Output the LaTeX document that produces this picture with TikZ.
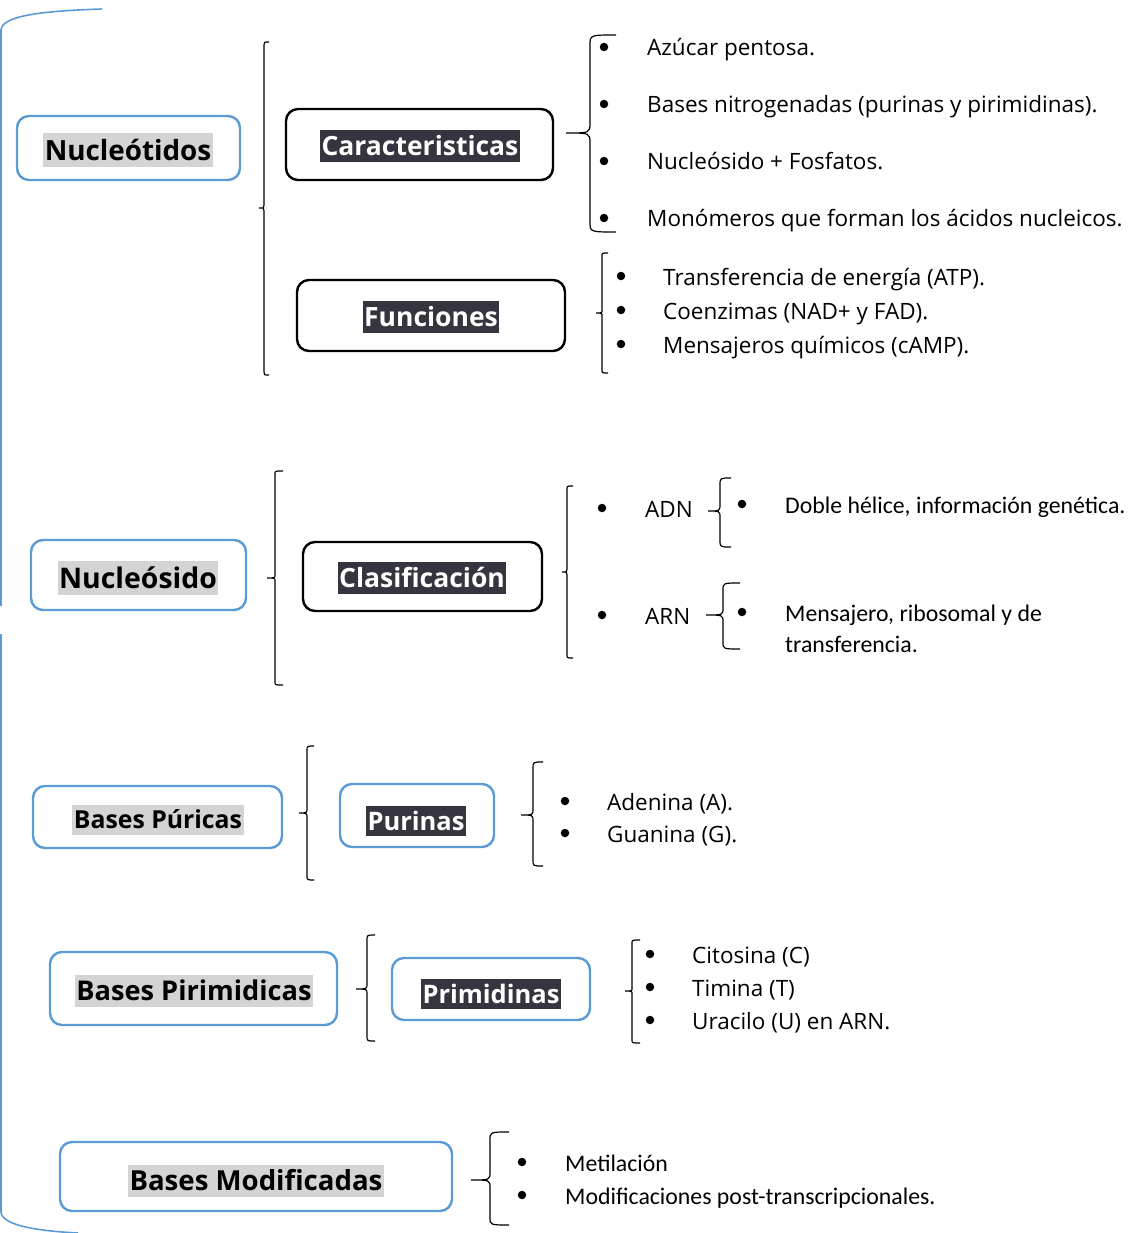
\documentclass[tikz,border=0pt]{standalone}
\usepackage{fontspec}
\setmainfont{Open Sans}
\newfontfamily\calib{Carlito}
\definecolor{boxblue}{HTML}{5B9BD5}
\definecolor{hlgray}{HTML}{D4D4D4}
\definecolor{hldark}{HTML}{35343F}
\newcommand\brc[7]{\draw[brk] (#6,#2) .. controls (#1,#2) .. (#1,{#2+#7}) -- (#1,{#4-#7}) .. controls (#1,#4) .. (#5,#4) .. controls (#1,#4) .. (#1,{#4+#7}) -- (#1,{#3-#7}) .. controls (#1,#3) .. (#6,#3);}
\newcommand\hlstrut{\rule[-0.2em]{0pt}{1.12em}}
\begin{document}
\begin{tikzpicture}[x=1pt,y=-1pt,
  bluebox/.style={draw=boxblue,line width=2.4pt,rounded corners=12pt,inner sep=0pt},
  blackbox/.style={draw=black,line width=2.4pt,rounded corners=12pt,inner sep=0pt},
  graylab/.style={fill=hlgray,inner xsep=1.5pt,inner ysep=1pt,font=\bfseries\fontsize{#1}{#1}\selectfont},
  darklab/.style={fill=hldark,text=white,inner xsep=1.5pt,inner ysep=1pt,font=\bfseries\fontsize{#1}{#1}\selectfont},
  item/.style={anchor=west,inner sep=0pt,text height=19pt,text depth=1pt,font=\fontsize{22.5}{26}\selectfont},
  citem/.style={anchor=west,inner sep=0pt,text height=19pt,text depth=1pt,font=\calib\fontsize{23.8}{26}\selectfont},
  bul/.style={circle,fill=black,inner sep=0pt,minimum size=8.5pt},
  brk/.style={draw=black,line width=1.2pt},
  bigbrace/.style={draw=boxblue,line width=1.6pt}]
\useasboundingbox (0,0) rectangle (1132,1233);

% big left brace
\draw[bigbrace] (102,9) .. controls (40,11) and (2,16) .. (1,30) -- (1,606);
\draw[bigbrace] (1,634) -- (1,1212) .. controls (2,1226) and (40,1231) .. (78,1233);

% Nucleotidos
\node[bluebox,minimum width=223pt,minimum height=64pt] (nuc) at (128.5,148) {};
\node[graylab=27.8] (nucl) at (128,150) {\hlstrut Nucleótidos};
\brc{264}{42}{375}{208}{259}{269}{3}

\node[blackbox,minimum width=267pt,minimum height=71pt] (car) at (419.5,144.5) {};
\node[darklab=26.5] (carl) at (420,146) {\hlstrut Caracteristicas};
\brc{590}{35}{232}{133}{566}{616}{10}
\foreach \y/\t [count=\i] in {47/Azúcar pentosa.,104/Bases nitrogenadas (purinas y pirimidinas).,161/Nucleósido + Fosfatos.,218/Monómeros que forman los ácidos nucleicos.}{
  \node[bul] (cb\i) at (604,\y) {};
  \node[item] (ct\i) at (647,\y) {\t};
}

\node[blackbox,minimum width=268pt,minimum height=71pt] (fun) at (431,315.5) {};
\node[darklab=26.5] (funl) at (431,317) {\hlstrut Funciones};
\brc{602}{253}{373}{313}{596}{608}{3}
\foreach \y/\t [count=\i] in {276/Transferencia de energía (ATP).,310/Coenzimas (NAD+ y FAD).,344/Mensajeros químicos (cAMP).}{
  \node[bul] (fb\i) at (621,\y) {};
  \node[item] (ft\i) at (663,\y) {\t};
}

% Nucleosido
\node[bluebox,minimum width=215pt,minimum height=70pt] (nuo) at (138.5,575) {};
\node[graylab=28.4] (nuol) at (138,578) {\hlstrut Nucleósido};
\brc{275}{471}{685}{578}{267}{283}{3}
\node[blackbox,minimum width=239pt,minimum height=69pt] (cla) at (422.5,576.5) {};
\node[darklab=26.5] (clal) at (422,578) {\hlstrut Clasificación};
\brc{567}{486}{658}{572}{562}{573}{3}
\node[bul] (ab1) at (602,508) {};
\node[item] (adn) at (645,508) {ADN};
\node[bul] (ab2) at (602,615) {};
\node[item] (arn) at (645,615) {ARN};
\brc{720}{478}{547}{511}{708}{731}{7}
\node[bul] (db) at (742,504) {};
\node[citem] (dt) at (785,504) {Doble hélice, información genética.};
\brc{723}{583}{649}{615}{706}{740}{7}
\node[bul] (mb) at (742,612) {};
\node[citem] (mt1) at (785,612) {Mensajero, ribosomal y de};
\node[citem] (mt2) at (785,643) {transferencia.};

% Bases Puricas
\node[bluebox,minimum width=249pt,minimum height=62pt] (bpu) at (157.5,817) {};
\node[graylab=24.8] (bpul) at (158,820) {\hlstrut Bases Púricas};
\brc{307}{746}{880}{813}{299}{314}{5}
\node[bluebox,minimum width=154pt,minimum height=63pt] (pur) at (417,815.5) {};
\node[darklab=25.5] (purl) at (416,821) {\hlstrut Purinas};
\brc{533}{762}{866}{815}{521}{543}{6}
\node[bul] (pb1) at (565,801) {};
\node[item] (pt1) at (607,801) {Adenina (A).};
\node[bul] (pb2) at (565,833) {};
\node[item] (pt2) at (607,833) {Guanina (G).};

% Bases Pirimidicas
\node[bluebox,minimum width=287pt,minimum height=73pt] (bpi) at (193.5,988.5) {};
\node[graylab=27.2] (bpil) at (194,991) {\hlstrut Bases Pirimidicas};
\brc{367}{935}{1041}{989}{356}{375}{5}
\node[bluebox,minimum width=198pt,minimum height=62pt] (pri) at (491,989) {};
\node[darklab=25.5] (pril) at (491,994) {\hlstrut Primidinas};
\brc{632}{940}{1043}{991}{625}{640}{3}
\foreach \y/\t [count=\i] in {954/Citosina (C),987/Timina (T),1020/Uracilo (U) en ARN.}{
  \node[bul] (qb\i) at (650,\y) {};
  \node[item] (qt\i) at (692,\y) {\t};
}

% Bases Modificadas
\node[bluebox,minimum width=392pt,minimum height=69pt] (bmo) at (256,1176.5) {};
\node[graylab=27.6] (bmol) at (256,1181) {\hlstrut Bases Modificadas};
\brc{490}{1132}{1225}{1180}{471}{509}{8}
\node[bul] (mb1) at (522,1162) {};
\node[citem] (mt1b) at (565,1162) {Metilación};
\node[bul] (mb2) at (522,1195) {};
\node[citem] (mt2b) at (565,1195) {Modificaciones post-transcripcionales.};
\end{tikzpicture}
\end{document}
